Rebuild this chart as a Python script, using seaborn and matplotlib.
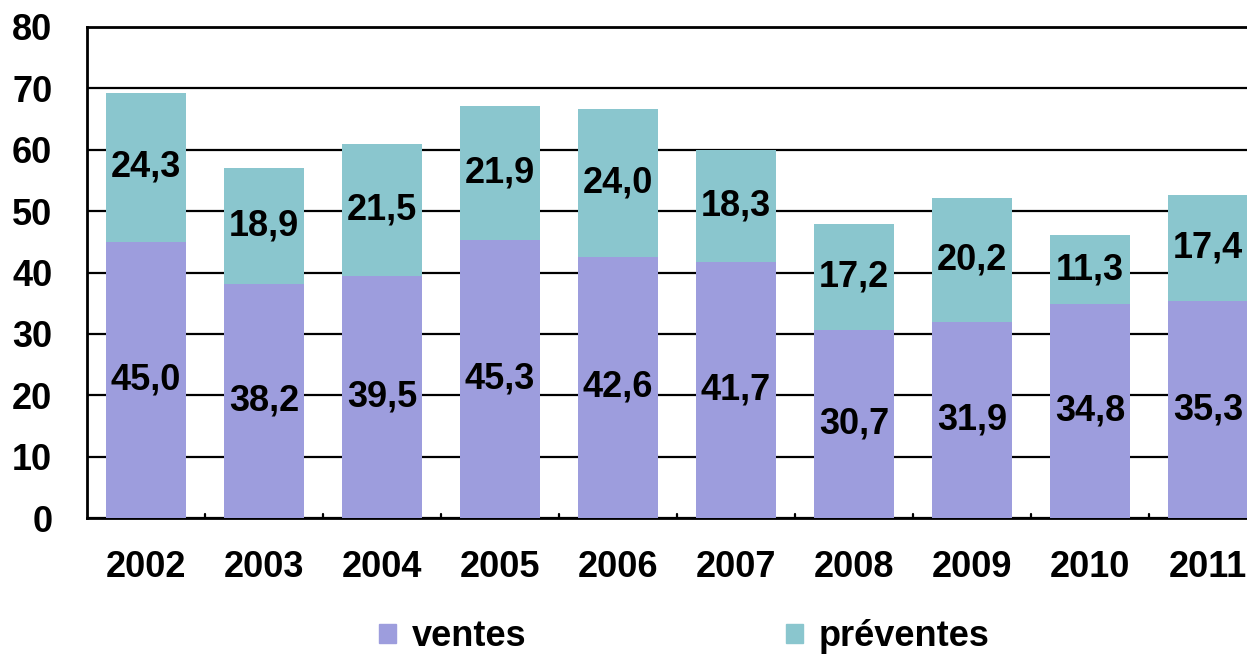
import numpy as np
import pandas as pd
import matplotlib
matplotlib.use("Agg")
import matplotlib.pyplot as plt
from matplotlib.patches import Patch
import seaborn as sns

# data
years = ["2002", "2003", "2004", "2005", "2006", "2007", "2008", "2009", "2010", "2011"]
ventes = [45.0, 38.2, 39.5, 45.3, 42.6, 41.7, 30.7, 31.9, 34.8, 35.3]
preventes = [24.3, 18.9, 21.5, 21.9, 24.0, 18.3, 17.2, 20.2, 11.3, 17.4]

col_ventes = "#9d9ddd"
col_preventes = "#8ac6ce"

sns.set_style("white")
plt.rcParams["font.family"] = ["Liberation Sans", "DejaVu Sans"]
plt.rcParams["font.weight"] = "bold"
plt.rcParams["text.color"] = "black"
plt.rcParams["xtick.color"] = "black"
plt.rcParams["ytick.color"] = "black"

df = pd.DataFrame({"annee": years, "ventes": ventes, "preventes": preventes})
df["total"] = df["ventes"] + df["preventes"]

fig = plt.figure(figsize=(12.47, 6.58), dpi=100)
ax = fig.add_axes([87 / 1247, 140 / 658, 1180 / 1247, 491 / 658])

# stacked bars: total first, ventes on top of it
sns.barplot(data=df, x="annee", y="total", color=col_preventes, width=0.68,
            saturation=1, linewidth=0, ax=ax, zorder=3)
sns.barplot(data=df, x="annee", y="ventes", color=col_ventes, width=0.68,
            saturation=1, linewidth=0, ax=ax, zorder=3)

fs = 26
fmt = lambda v: f"{v:.1f}".replace(".", ",")
for i, (v, p) in enumerate(zip(ventes, preventes)):
    ax.text(i, v / 2, fmt(v), ha="center", va="center", fontsize=fs,
            fontweight="bold", color="black", zorder=4)
    ax.text(i, v + p / 2, fmt(p), ha="center", va="center", fontsize=fs,
            fontweight="bold", color="black", zorder=4)

ax.set_ylim(0, 80)
ax.set_xlim(-0.5, len(years) - 0.5)
ax.set_yticks(np.arange(0, 81, 10))
ax.yaxis.grid(True, color="black", linewidth=1.6, zorder=0)
ax.set_axisbelow(True)
ax.tick_params(axis="y", length=0, labelsize=fs, pad=25)
ax.tick_params(axis="x", length=0, labelsize=fs, pad=23)
for lab in ax.get_xticklabels() + ax.get_yticklabels():
    lab.set_fontweight("bold")
ax.set_xlabel("")
ax.set_ylabel("")

# little separator ticks between years on the bottom axis
for k in range(1, len(years)):
    ax.plot([k - 0.5, k - 0.5], [0, 0.65], color="black", lw=1.6,
            clip_on=False, zorder=5)

for s in ax.spines.values():
    s.set_color("black")
    s.set_linewidth(2)

handles = [Patch(color=col_ventes, label="ventes"),
           Patch(color=col_preventes, label="préventes")]
fig.legend(handles=handles, loc="center", bbox_to_anchor=(0.549, 0.032), ncol=2,
           frameon=False, handlelength=0.45, handleheight=0.45,
           handletextpad=0.45, columnspacing=7.2,
           prop={"weight": "bold", "size": 26})

fig.savefig("out.png", dpi=100)
